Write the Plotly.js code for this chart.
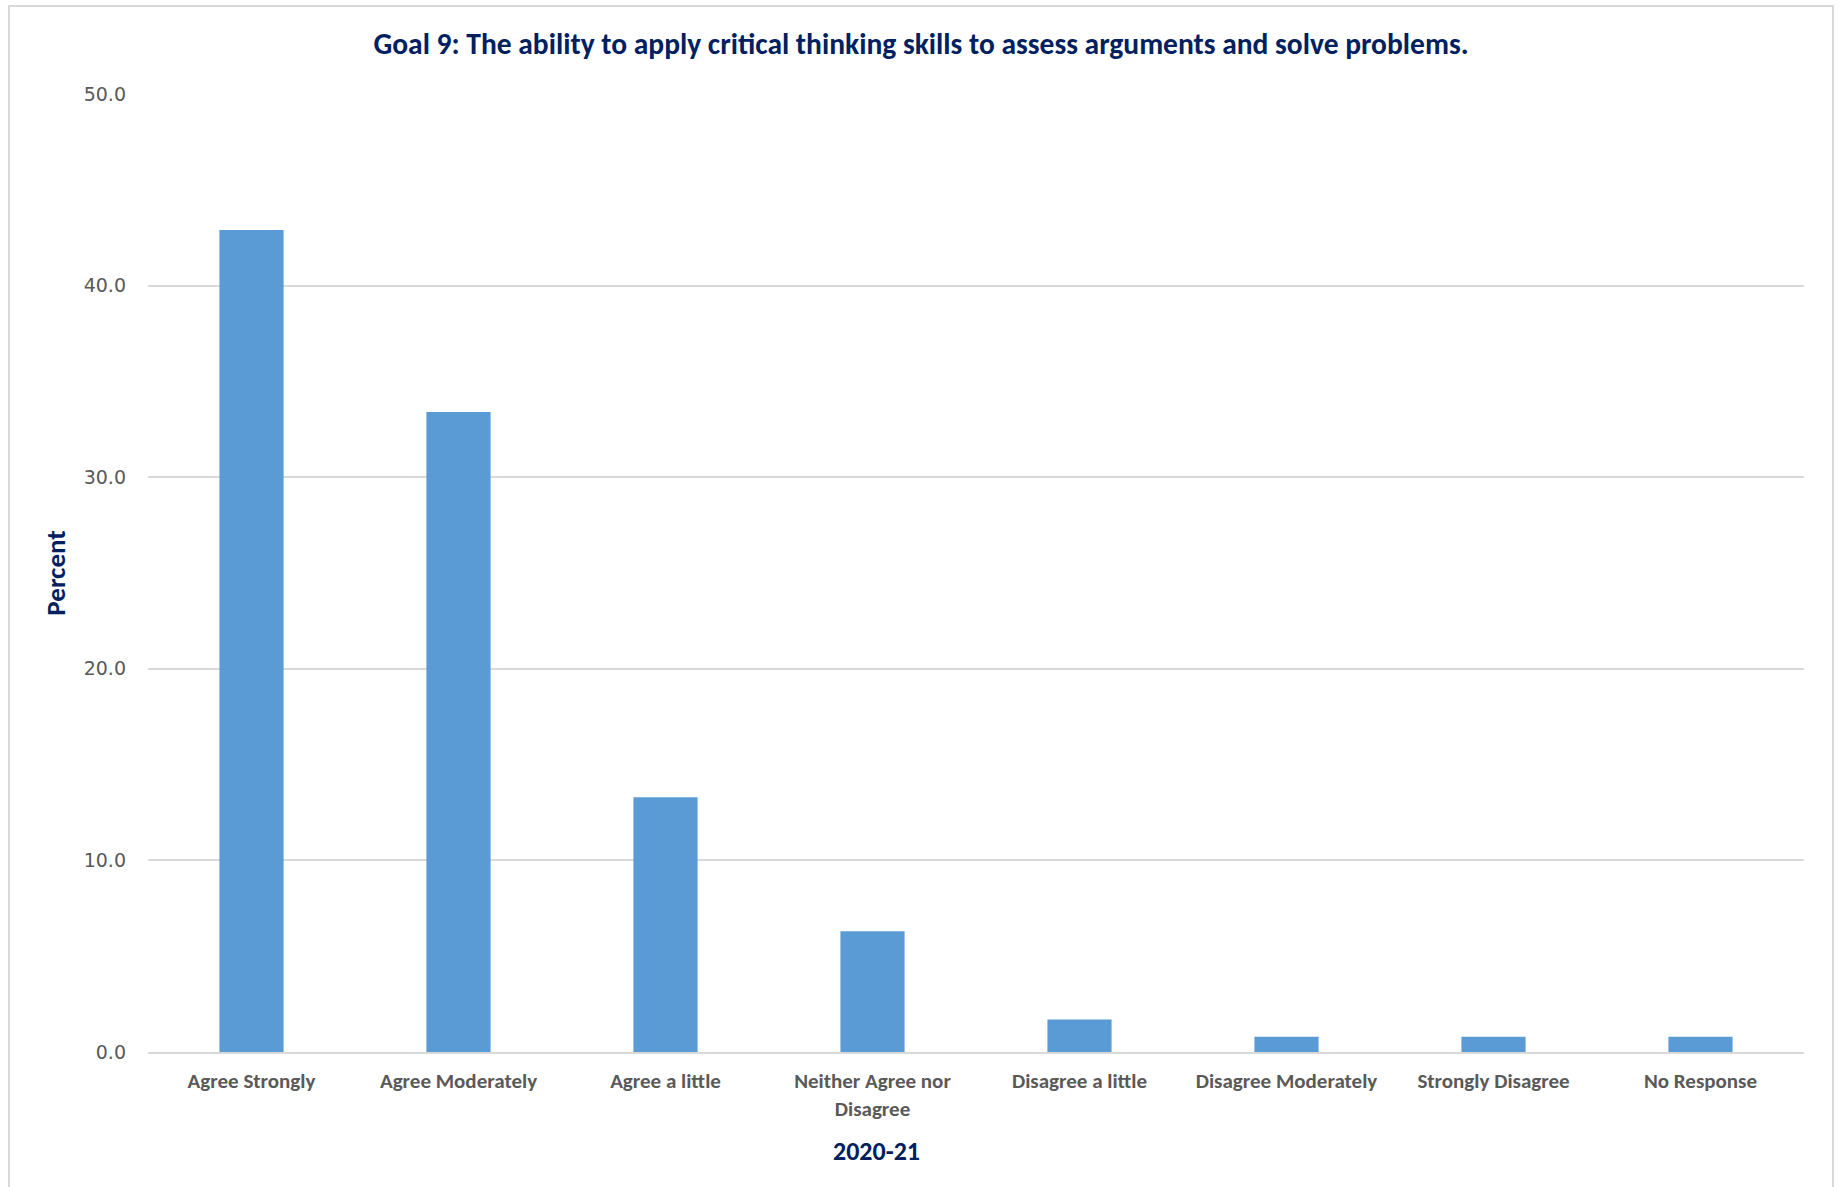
<!DOCTYPE html>
<html>
<head>
<meta charset="utf-8">
<script src="https://cdn.plot.ly/plotly-3.0.1.min.js"></script>
<style>
  html, body { margin: 0; padding: 0; background: #ffffff; }
  #frame { position: absolute; left: 8px; top: 5px; width: 1826px; height: 1200px; border: 2px solid #d9d9d9; box-sizing: border-box; }
  #chart { position: absolute; left: 0; top: 0; width: 1842px; height: 1187px; }
</style>
</head>
<body>
<div id="frame"></div>
<div id="chart"></div>
<script>
const categories = [
  "Agree Strongly",
  "Agree Moderately",
  "Agree a little",
  "Neither Agree nor<br>Disagree",
  "Disagree a little",
  "Disagree Moderately",
  "Strongly Disagree",
  "No Response"
];
const percentValues = [42.9, 33.4, 13.3, 6.3, 1.7, 0.8, 0.8, 0.8];
const yTickValues = [0, 10, 20, 30, 40, 50];
const yTickLabels = ["0.0", "10.0", "20.0", "30.0", "40.0", "50.0"];
const chartTitle = "Goal 9: The ability to apply critical thinking skills to assess arguments and solve problems.";
const yTitle = "Percent";
const xTitle = "2020-21";

const calibri = "Carlito, 'Liberation Sans Narrow', 'DejaVu Sans Condensed', sans-serif";
const navy = "#002060";

const trace = {
  type: "bar",
  x: categories,
  y: percentValues,
  marker: { color: "#5b9bd5", line: { width: 0 } },
  hoverinfo: "x+y"
};

const layout = {
  width: 1842,
  height: 1187,
  paper_bgcolor: "rgba(0,0,0,0)",
  plot_bgcolor: "rgba(0,0,0,0)",
  margin: { l: 148, r: 38, t: 94, b: 135 },
  bargap: 0.69,
  showlegend: false,
  title: {
    text: "<b>" + chartTitle + "</b>",
    font: { family: calibri, size: 29.5, color: navy },
    x: 0.5, xref: "container", xanchor: "center",
    y: 1, yref: "container", yanchor: "top", pad: { t: 33 }
  },
  xaxis: {
    type: "category",
    tickfont: { family: calibri, size: 21, color: "#595959", weight: "bold" },
    showgrid: false,
    showline: true,
    linecolor: "#d9d9d9",
    linewidth: 2,
    ticks: "",
    ticklabelstandoff: 9,
    fixedrange: true
  },
  yaxis: {
    range: [0, 50],
    tickvals: yTickValues,
    ticktext: yTickLabels,
    tickfont: { family: "'DejaVu Sans', Verdana, sans-serif", size: 19, color: "#595959" },
    showgrid: true,
    gridcolor: "#d9d9d9",
    gridwidth: 1.5,
    zeroline: false,
    showline: false,
    ticks: "",
    ticklabelstandoff: 21,
    title: { text: "<b>" + yTitle + "</b>", font: { family: calibri, size: 27, color: navy }, standoff: 10 },
    fixedrange: true
  },
  annotations: [
    {
      text: "<b>" + xTitle + "</b>",
      xref: "paper", yref: "paper",
      x: 0.4397, y: -0.1035,
      xanchor: "center", yanchor: "middle",
      showarrow: false,
      font: { family: calibri, size: 26, color: navy }
    }
  ]
};

Plotly.newPlot("chart", [trace], layout, { displayModeBar: false, responsive: false });
</script>
</body>
</html>
